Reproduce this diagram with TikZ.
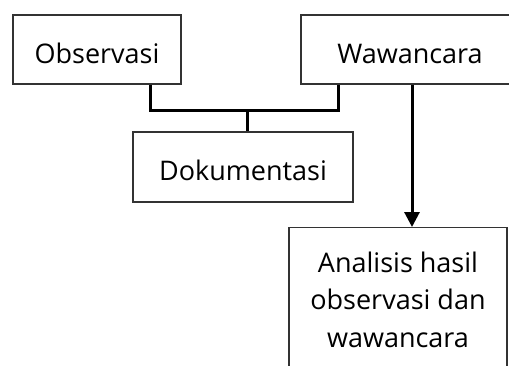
\documentclass[tikz,border=0pt]{standalone}
\usepackage{fontspec}
\setmainfont{Open Sans}
\usetikzlibrary{arrows.meta}
\begin{document}
\begin{tikzpicture}[x=1pt,y=-1pt,
  box/.style={draw=black!80,line width=1.2pt,rectangle,inner sep=0pt,
    font=\fontsize{27}{37.5}\selectfont,text height=27pt,text depth=0pt},
  conn/.style={line width=3pt,line join=miter},
  arr/.style={line width=3pt,-{Triangle[width=15pt,length=15pt]}}]
\useasboundingbox (0,0) rectangle (509,365);
\clip (0,0) rectangle (509,365);
\node[box,minimum width=168pt,minimum height=69pt] (obs) at (97,49.5) {Observasi};
\node[box,minimum width=218pt,minimum height=69pt] (waw) at (410,49.5) {Wawancara};
\node[box,minimum width=220pt,minimum height=70pt] (dok) at (243,167) {Dokumentasi};
\node[draw=black!80,line width=1.2pt,rectangle,anchor=north,minimum width=218pt,
  inner xsep=0pt,inner ysep=24pt,align=center,
  font=\fontsize{27}{37.5}\selectfont] (ana) at (398,227)
  {Analisis hasil\\observasi dan\\wawancara};
\coordinate (j) at (247,110);
\draw[conn] ([xshift=53pt]obs.south) |- (j) -| ([xshift=-72pt]waw.south);
\draw[conn] (j) -- (j |- dok.north);
\draw[arr] ([xshift=2pt]waw.south) -- ([xshift=2pt]waw.south |- ana.north);
\end{tikzpicture}
\end{document}
